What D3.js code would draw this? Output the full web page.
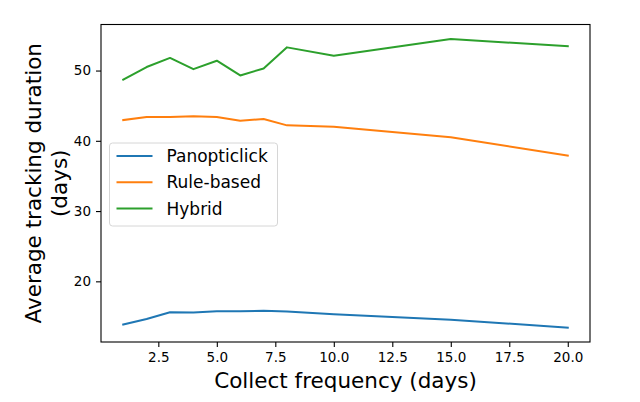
<!DOCTYPE html>
<html>
<head>
<meta charset="utf-8">
<script src="https://cdn.jsdelivr.net/npm/d3@7"></script>
<style>
  body { margin: 0; background: #fff; }
  svg { display: block; font-family: "DejaVu Sans", sans-serif; }
</style>
</head>
<body>
<script>
const frequencies = [1, 2, 3, 4, 5, 6, 7, 8, 10, 15, 20]
const panopticlick = [13.85, 14.65, 15.6, 15.55, 15.75, 15.75, 15.8, 15.72, 15.33, 14.55, 13.42]
const ruleBased = [42.95, 43.4, 43.4, 43.5, 43.4, 42.85, 43.1, 42.2, 42.0, 40.5, 37.9]
const hybrid = [48.7, 50.5, 51.8, 50.2, 51.4, 49.3, 50.3, 53.3, 52.1, 54.5, 53.45]
const seriesNames = ["Panopticlick", "Rule-based", "Hybrid"]
const seriesColors = ["#1f77b4", "#ff7f0e", "#2ca02c"]
const xTicks = [2.5, 5, 7.5, 10, 12.5, 15, 17.5, 20]
const yTicks = [20, 30, 40, 50]

const width = 640
const height = 402
const marginLeft = 101
const marginRight = 50
const marginTop = 24.5
const marginBottom = 60

const series = [panopticlick, ruleBased, hybrid].map((values, i) => ({
    name: seriesNames[i],
    color: seriesColors[i],
    values: frequencies.map((f, j) => [f, values[j]])
}))

// matplotlib style 5% padding around the data
const xExt = d3.extent(frequencies)
const xPad = (xExt[1] - xExt[0]) * 0.05
const allY = series.flatMap(s => s.values.map(d => d[1]))
const yExt = d3.extent(allY)
const yPad = (yExt[1] - yExt[0]) * 0.05

const x = d3.scaleLinear([xExt[0] - xPad, xExt[1] + xPad], [marginLeft, width - marginRight])
const y = d3.scaleLinear([yExt[0] - yPad, yExt[1] + yPad], [height - marginBottom, marginTop])

const svg = d3.select("body").append("svg")
    .attr("width", width)
    .attr("height", height)
    .attr("viewBox", [0, 0, width, height])

const line = d3.line()
    .x(d => x(d[0]))
    .y(d => y(d[1]))

svg.append("g")
    .attr("fill", "none")
    .attr("stroke-width", 2)
    .attr("stroke-linejoin", "round")
    .attr("stroke-linecap", "square")
    .selectAll("path")
    .data(series)
    .join("path")
    .attr("stroke", d => d.color)
    .attr("d", d => line(d.values))

// axes
svg.append("g")
    .attr("transform", `translate(0,${height - marginBottom})`)
    .call(d3.axisBottom(x).tickValues(xTicks).tickFormat(d3.format(".1f")).tickSize(5).tickPadding(5).tickSizeOuter(0))
    .call(g => g.select(".domain").remove())
    .call(g => g.selectAll(".tick line").attr("stroke", "#000").attr("stroke-width", 1.1))
    .call(g => g.selectAll(".tick text").attr("font-size", 13.5).attr("fill", "#000").attr("font-family", "DejaVu Sans"))

svg.append("g")
    .attr("transform", `translate(${marginLeft},0)`)
    .call(d3.axisLeft(y).tickValues(yTicks).tickSize(5).tickPadding(5).tickSizeOuter(0))
    .call(g => g.select(".domain").remove())
    .call(g => g.selectAll(".tick line").attr("stroke", "#000").attr("stroke-width", 1.1))
    .call(g => g.selectAll(".tick text").attr("font-size", 13.5).attr("fill", "#000").attr("font-family", "DejaVu Sans"))

// frame
svg.append("rect")
    .attr("x", marginLeft)
    .attr("y", marginTop)
    .attr("width", width - marginRight - marginLeft)
    .attr("height", height - marginBottom - marginTop)
    .attr("fill", "none")
    .attr("stroke", "#000")
    .attr("stroke-width", 1.1)

// axis labels
svg.append("text")
    .attr("x", (marginLeft + width - marginRight) / 2)
    .attr("y", 388)
    .attr("text-anchor", "middle")
    .attr("font-size", 21.5)
    .text("Collect frequency (days)")

const yMid = (marginTop + height - marginBottom) / 2
const yLabel = svg.append("text")
    .attr("transform", `translate(0,${yMid}) rotate(-90)`)
    .attr("text-anchor", "middle")
    .attr("font-size", 21.5)
yLabel.append("tspan").attr("x", 0).attr("y", 41).text("Average tracking duration")
yLabel.append("tspan").attr("x", 0).attr("y", 67).text("(days)")

// legend
const legend = svg.append("g")
    .attr("transform", "translate(109.5,143)")

legend.append("rect")
    .attr("width", 168)
    .attr("height", 83)
    .attr("rx", 3)
    .attr("fill", "#fff")
    .attr("fill-opacity", 0.8)
    .attr("stroke", "#d6d6d6")

const item = legend.selectAll("g.item")
    .data(series)
    .join("g")
    .attr("class", "item")
    .attr("transform", (d, i) => `translate(0,${13 + i * 26.2})`)

item.append("line")
    .attr("x1", 7)
    .attr("x2", 43)
    .attr("stroke", d => d.color)
    .attr("stroke-width", 2)

item.append("text")
    .attr("x", 57)
    .attr("dy", "0.36em")
    .attr("font-size", 17)
    .text(d => d.name)
</script>
</body>
</html>
